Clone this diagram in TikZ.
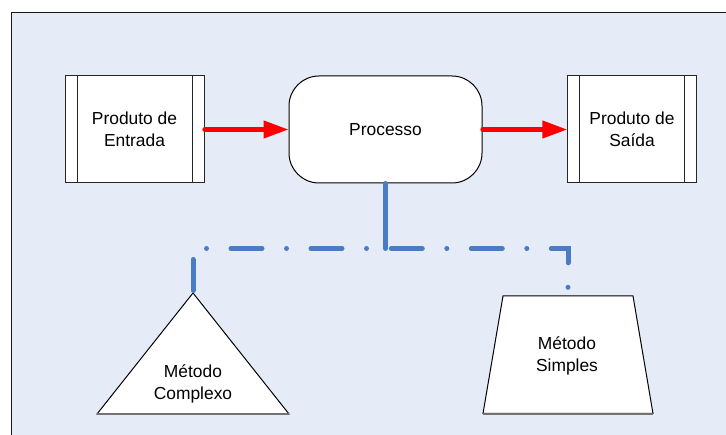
\documentclass[tikz,border=0pt]{standalone}
\usepackage{fontspec}
\setmainfont{Liberation Sans}
\usetikzlibrary{arrows.meta,calc}
\definecolor{bgblue}{RGB}{230,236,247}
\definecolor{linkblue}{RGB}{74,123,197}
\definecolor{flowred}{RGB}{255,0,0}
\begin{document}
\begin{tikzpicture}[x=1pt,y=-1pt,
  lbl/.style={font=\fontsize{17.4}{21.6}\selectfont, align=center, text=black},
  iobox/.style={draw=black!85, line width=1pt, fill=white, minimum height=107pt, inner sep=0pt},
  procbox/.style={draw=black, line width=1pt, fill=white, rounded corners=30pt, minimum width=193pt, minimum height=107pt, inner sep=0pt},
  flow/.style={draw=flowred, line width=4.3pt, line cap=round, -{Triangle[length=25pt,width=17pt]}},
  link/.style={draw=linkblue, line width=5pt, line cap=round},
  linkdash/.style={link, dash pattern=on 31pt off 24.5pt on 0pt off 24.5pt},
  methshape/.style={draw=black, line width=1pt, fill=white, line join=miter},
  methbase/.style={draw=black!55, line width=1.6pt}
]
\useasboundingbox (0,0) rectangle (726,435);

% sheet
\fill[bgblue] (11.5,12.3) rectangle (730,440);
\draw[black!90, line width=1.2pt] (11.5,440) -- (11.5,12.3) -- (730,12.3);

% input / output boxes with side bars
\node[iobox, minimum width=139pt, lbl] (entrada) at (134.5,129.5) {Produto de\\Entrada};
\draw[black!85, line width=1pt] ($(entrada.north west)+(12.5,0)$) -- ($(entrada.south west)+(12.5,0)$);
\draw[black!85, line width=1pt] ($(entrada.north east)+(-12.5,0)$) -- ($(entrada.south east)+(-12.5,0)$);

\node[iobox, minimum width=128.5pt, lbl] (saida) at (632,129.5) {Produto de\\Saída};
\draw[black!85, line width=1pt] ($(saida.north west)+(12.5,0)$) -- ($(saida.south west)+(12.5,0)$);
\draw[black!85, line width=1pt] ($(saida.north east)+(-12.5,0)$) -- ($(saida.south east)+(-12.5,0)$);

% process
\node[procbox, lbl] (processo) at (385.5,129.5) {Processo};

% flow arrows
\draw[flow] (entrada.east) -- (processo.west);
\draw[flow] (processo.east) -- (saida.west);

% methods
\draw[methshape] (97,414) -- (193,293) coordinate (apex) -- (289,414) -- cycle;
\draw[methbase] (97,414.3) -- (289,414.3);
\node[lbl] (complexo) at (193,384) {Método\\Complexo};

\draw[methshape] (503,296) -- (633,296) -- (653,413.5) -- (483,413.5) -- cycle;
\draw[methbase] (483,413.8) -- (653,413.8);
\coordinate (simplestop) at (568,287.3);
\node[lbl] (simples) at (567,356) {Método\\Simples};

% method links
\coordinate (junc) at ($(processo.south)+(0,65)$);
\draw[link] (processo.south) -- (junc);
\draw[linkdash, dash phase=36.5pt] (junc) -| (apex);
\draw[linkdash, dash phase=74.2pt] (junc) -| (simplestop);
\end{tikzpicture}
\end{document}
